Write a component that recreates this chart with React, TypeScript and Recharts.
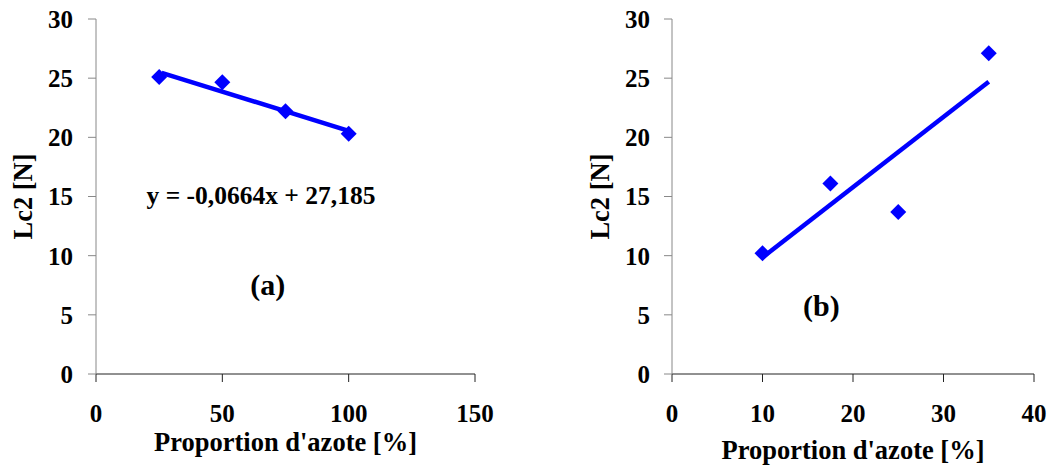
// Two side-by-side scatter plots: Lc2 vs nitrogen proportion, with linear trend lines
import {
  ScatterChart,
  Scatter,
  XAxis,
  YAxis,
  ReferenceDot,
} from "recharts";

const MARKER_COLOR = "#0000ff";
const FONT = "'Liberation Serif', 'Times New Roman', serif";

// panel (a)
const pointsA = [
  { x: 25, y: 25.1 },
  { x: 50, y: 24.65 },
  { x: 75, y: 22.2 },
  { x: 100, y: 20.3 },
];
const trendA = [
  { x: 26, y: 25.45 },
  { x: 100, y: 20.55 },
];
const xTicksA = [0, 50, 100, 150];

// panel (b)
const pointsB = [
  { x: 10, y: 10.2 },
  { x: 17.5, y: 16.1 },
  { x: 25, y: 13.7 },
  { x: 35, y: 27.1 },
];
const trendB = [
  { x: 10, y: 9.85 },
  { x: 35, y: 24.7 },
];
const xTicksB = [0, 10, 20, 30, 40];

const yTicks = [0, 5, 10, 15, 20, 25, 30];

const tickStyle = { fontFamily: FONT, fontSize: 25, fontWeight: 700, fill: "#000" };
const titleStyle = { fontFamily: FONT, fontSize: 26.5, fontWeight: 700, fill: "#000" };

// filled diamond marker
function Diamond(props: any) {
  const { cx, cy } = props;
  if (cx == null || cy == null) return <g />;
  const r = 8;
  return (
    <polygon
      points={`${cx},${cy - r} ${cx + r},${cy} ${cx},${cy + r} ${cx - r},${cy}`}
      fill={MARKER_COLOR}
    />
  );
}

const NoShape = () => <g />;

type PanelProps = {
  width: number;
  points: { x: number; y: number }[];
  trend: { x: number; y: number }[];
  xMax: number;
  xTicks: number[];
  yAxisWidth: number;
  yTickMargin: number;
  yLabelOffset: number;
  xLabelOffset: number;
  rightMargin: number;
  notes: { x: number; y: number; text: string; size: number }[];
};

function Panel(p: PanelProps) {
  return (
    <ScatterChart
      width={p.width}
      height={465}
      margin={{ top: 19, right: p.rightMargin, bottom: 41, left: 0 }}
    >
      <XAxis
        type="number"
        dataKey="x"
        domain={[0, p.xMax]}
        ticks={p.xTicks}
        interval={0}
        stroke="#222"
        tickSize={8}
        tickMargin={22}
        tick={tickStyle}
        height={50}
        label={{
          value: "Proportion d'azote [%]",
          position: "bottom",
          offset: p.xLabelOffset,
          style: titleStyle,
        }}
      />
      <YAxis
        type="number"
        dataKey="y"
        domain={[0, 30]}
        ticks={yTicks}
        interval={0}
        stroke="#888"
        tickSize={8}
        tickMargin={p.yTickMargin}
        tick={tickStyle}
        width={p.yAxisWidth}
        label={{
          value: "Lc2 [N]",
          angle: -90,
          position: "insideLeft",
          offset: p.yLabelOffset,
          style: { ...titleStyle, textAnchor: "middle" },
        }}
      />
      <Scatter
        data={p.trend}
        line={{ stroke: MARKER_COLOR, strokeWidth: 4.5 }}
        shape={NoShape}
        isAnimationActive={false}
      />
      <Scatter data={p.points} shape={Diamond} isAnimationActive={false} />
      {p.notes.map((n) => (
        <ReferenceDot
          key={n.text}
          x={n.x}
          y={n.y}
          r={0}
          fill="none"
          stroke="none"
          label={{
            value: n.text,
            position: "center",
            style: { fontFamily: FONT, fontSize: n.size, fontWeight: 700, fill: "#000" },
          }}
        />
      ))}
    </ScatterChart>
  );
}

export default function App() {
  return (
    <div
      style={{
        position: "absolute",
        left: 0,
        top: 0,
        width: 1052,
        height: 465,
        background: "#fff",
        display: "flex",
      }}
    >
      <Panel
        width={530}
        points={pointsA}
        trend={trendA}
        xMax={150}
        xTicks={xTicksA}
        yAxisWidth={96}
        yTickMargin={15}
        yLabelOffset={23}
        xLabelOffset={8}
        rightMargin={55}
        notes={[
          { x: 65.3, y: 15.1, text: "y = -0,0664x + 27,185", size: 25.5 },
          { x: 68, y: 7.6, text: "(a)", size: 30 },
        ]}
      />
      <Panel
        width={522}
        points={pointsB}
        trend={trendB}
        xMax={40}
        xTicks={xTicksB}
        yAxisWidth={142}
        yTickMargin={14}
        yLabelOffset={70}
        xLabelOffset={16}
        rightMargin={18}
        notes={[{ x: 16.5, y: 5.8, text: "(b)", size: 30 }]}
      />
    </div>
  );
}
